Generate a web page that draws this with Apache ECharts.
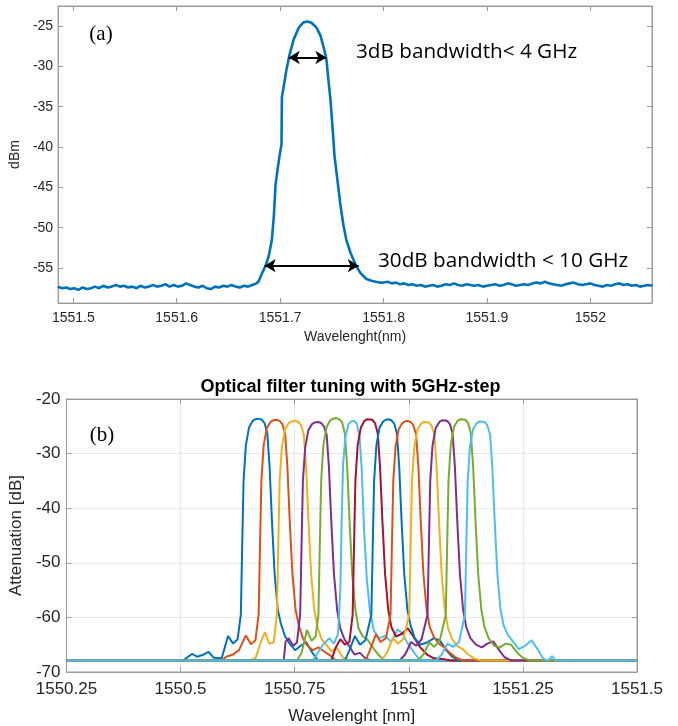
<!DOCTYPE html>
<html><head><meta charset="utf-8">
<script src="https://cdn.jsdelivr.net/npm/echarts@6/dist/echarts.min.js"></script>
<style>html,body{margin:0;padding:0;background:#fff}#c{width:678px;height:726px}</style>
</head><body><div id="c"></div>
<script>
// ---------- (a) single filter spectrum ----------
const spectrumBaseLeft = [
[1551.485,-57.3],[1551.489,-57.5],[1551.493,-57.4],[1551.497,-57.6],[1551.501,-57.5],[1551.505,-57.7],[1551.509,-57.4],
[1551.513,-57.6],[1551.517,-57.5],[1551.521,-57.3],[1551.525,-57.5],[1551.529,-57.2],[1551.533,-57.4],[1551.537,-57.3],
[1551.541,-57.1],[1551.545,-57.3],[1551.549,-57.2],[1551.553,-57.4],[1551.557,-57.3],[1551.561,-57.5],[1551.565,-57.2],
[1551.569,-57.4],[1551.573,-57.3],[1551.577,-57.1],[1551.581,-57.3],[1551.585,-57.2],[1551.589,-57.0],[1551.593,-57.3],
[1551.597,-57.1],[1551.601,-57.3],[1551.605,-57.2],[1551.609,-56.9],[1551.613,-57.1],[1551.617,-57.3],[1551.621,-57.4],
[1551.625,-57.2],[1551.629,-57.5],[1551.633,-57.6],[1551.637,-57.3],[1551.641,-57.4],[1551.645,-57.2],[1551.649,-57.3],
[1551.653,-57.1],[1551.657,-57.3],[1551.661,-57.4],[1551.665,-57.2],[1551.669,-57.3],[1551.673,-57.1],[1551.677,-56.9]
];
const spectrumPeak = [
[1551.679,-56.7],[1551.683,-55.5],[1551.686,-54.7],[1551.689,-53.5],[1551.692,-51.5],[1551.694,-48.4],[1551.6955,-44.7],
[1551.6975,-42.8],[1551.6995,-41.0],[1551.7013,-39.7],[1551.7017,-33.8],[1551.7032,-32.7],[1551.706,-30.5],[1551.709,-28.6],
[1551.713,-26.7],[1551.718,-25.2],[1551.7225,-24.55],[1551.7264,-24.45],[1551.7303,-24.6],[1551.7351,-25.2],[1551.739,-26.2],
[1551.7428,-28.0],[1551.7448,-29.2],[1551.7467,-31.7],[1551.7487,-34.2],[1551.7505,-37.3],[1551.7525,-41.0],[1551.7554,-44.1],
[1551.7583,-47.2],[1551.7612,-49.7],[1551.764,-51.5],[1551.768,-53.1],[1551.773,-54.6],[1551.7775,-55.6],[1551.7834,-56.35],
[1551.789,-56.6],[1551.796,-56.8]
];
const spectrumBaseRight = [
[1551.800,-56.8],[1551.804,-56.7],[1551.808,-56.9],[1551.812,-56.8],[1551.816,-57.0],[1551.820,-56.9],[1551.824,-57.1],
[1551.828,-57.0],[1551.832,-57.2],[1551.836,-57.1],[1551.840,-57.3],[1551.844,-57.2],[1551.848,-57.1],[1551.852,-57.3],
[1551.856,-57.2],[1551.860,-57.0],[1551.864,-57.1],[1551.868,-56.9],[1551.872,-57.1],[1551.876,-57.2],[1551.880,-57.0],
[1551.884,-57.1],[1551.888,-57.2],[1551.892,-57.1],[1551.896,-57.3],[1551.900,-57.2],[1551.904,-57.1],[1551.908,-57.0],
[1551.912,-57.2],[1551.916,-57.1],[1551.920,-56.9],[1551.924,-57.0],[1551.928,-57.2],[1551.932,-57.1],[1551.936,-57.0],
[1551.940,-57.1],[1551.944,-56.9],[1551.948,-56.8],[1551.952,-56.9],[1551.956,-56.7],[1551.960,-56.9],[1551.964,-57.0],
[1551.968,-57.1],[1551.972,-57.2],[1551.976,-57.0],[1551.980,-56.9],[1551.984,-56.8],[1551.988,-57.0],[1551.992,-57.1],
[1551.996,-57.0],[1552.000,-56.9],[1552.004,-57.1],[1552.008,-57.2],[1552.012,-57.3],[1552.016,-57.1],[1552.020,-57.2],
[1552.024,-57.0],[1552.028,-56.9],[1552.032,-57.1],[1552.036,-57.0],[1552.040,-57.2],[1552.044,-57.1],[1552.048,-57.3],
[1552.052,-57.2],[1552.056,-57.1],[1552.060,-57.2]
];
const bw3dB = [[1551.7083,-28.9],[1551.7447,-28.9]];
const bw30dB = [[1551.685,-54.7],[1551.776,-54.7]];
const topXTicks = [1551.5,1551.6,1551.7,1551.8,1551.9,1552];
const topYTicks = [-55,-50,-45,-40,-35,-30,-25];
const topXRange = [1551.4853,1552.0596];
const topYRange = [-59.33,-22.52];

// ---------- (b) tuning sweep, 13 filter positions ----------
const s1 = [[1550.25,-67.9],[1550.505,-67.9],[1550.515,-67.3],[1550.525,-66.7],[1550.536,-67.2],[1550.548,-66.9],[1550.561,-66.3],[1550.573,-67.4],[1550.590,-67.5],[1550.604,-63.4],[1550.615,-64.8],[1550.625,-64.0],[1550.632,-59.5],[1550.635,-47],[1550.638,-35],[1550.643,-28.5],[1550.650,-25.2],[1550.658,-24.0],[1550.664,-23.7],[1550.671,-23.6],[1550.678,-23.8],[1550.684,-24.4],[1550.690,-26.3],[1550.695,-32.4],[1550.700,-42],[1550.706,-52],[1550.713,-58.6],[1550.720,-61.2],[1550.729,-63.5],[1550.739,-64.8],[1550.751,-66],[1550.763,-65.2],[1550.775,-64.5],[1550.789,-66.5],[1550.801,-67.9],[1551.5,-67.9]];
const s2 = [[1550.25,-67.9],[1550.590,-67.9],[1550.600,-67.2],[1550.615,-66.8],[1550.628,-66.0],[1550.643,-63.3],[1550.654,-64.9],[1550.664,-64.2],[1550.671,-59.5],[1550.674,-47],[1550.677,-35],[1550.682,-28.5],[1550.689,-25.3],[1550.697,-24.2],[1550.703,-23.9],[1550.710,-23.8],[1550.717,-24.0],[1550.723,-24.6],[1550.729,-26.3],[1550.734,-32.4],[1550.739,-42],[1550.745,-52],[1550.752,-58.6],[1550.759,-61.5],[1550.768,-63.8],[1550.778,-65.2],[1550.790,-66],[1550.802,-65.5],[1550.814,-66.2],[1550.828,-67.0],[1550.840,-67.9],[1551.5,-67.9]];
const s3 = [[1550.25,-67.9],[1550.650,-67.9],[1550.664,-67.5],[1550.676,-64.5],[1550.685,-62.7],[1550.694,-64.8],[1550.704,-64.6],[1550.711,-59.5],[1550.714,-47],[1550.717,-35],[1550.722,-28.7],[1550.729,-25.5],[1550.737,-24.4],[1550.744,-24.1],[1550.751,-24.0],[1550.758,-24.2],[1550.764,-24.8],[1550.770,-26.5],[1550.775,-32.4],[1550.780,-42],[1550.786,-52],[1550.793,-58.6],[1550.800,-61.8],[1550.809,-64.0],[1550.819,-65.0],[1550.831,-66.2],[1550.843,-65.6],[1550.855,-67.3],[1550.870,-67.9],[1551.5,-67.9]];
const s4 = [[1550.25,-67.9],[1550.726,-67.9],[1550.730,-64.5],[1550.737,-63.8],[1550.747,-65.2],[1550.755,-64.6],[1550.762,-59.5],[1550.765,-47],[1550.768,-35],[1550.773,-28.9],[1550.780,-25.7],[1550.788,-24.6],[1550.794,-24.3],[1550.801,-24.2],[1550.808,-24.4],[1550.814,-25.0],[1550.820,-26.5],[1550.825,-32.4],[1550.830,-42],[1550.836,-52],[1550.843,-58.6],[1550.850,-62.0],[1550.859,-64.0],[1550.869,-65.2],[1550.881,-66.8],[1550.893,-66.5],[1550.905,-67.5],[1550.918,-67.9],[1551.5,-67.9]];
const s5 = [[1550.25,-67.9],[1550.755,-67.9],[1550.765,-66.5],[1550.777,-62.3],[1550.787,-64.3],[1550.796,-63.5],[1550.802,-59.5],[1550.805,-47],[1550.808,-35],[1550.813,-28.4],[1550.820,-25.1],[1550.828,-23.9],[1550.834,-23.6],[1550.841,-23.5],[1550.848,-23.7],[1550.854,-24.3],[1550.860,-26.3],[1550.865,-32.4],[1550.870,-42],[1550.876,-52],[1550.883,-58.6],[1550.890,-62.0],[1550.899,-63.5],[1550.909,-64.0],[1550.921,-65.5],[1550.933,-66.8],[1550.946,-67.9],[1551.5,-67.9]];
const s6 = [[1550.25,-67.9],[1550.790,-67.9],[1550.800,-66.5],[1550.812,-65.0],[1550.826,-63.8],[1550.836,-64.8],[1550.845,-63.0],[1550.850,-55],[1550.853,-42],[1550.856,-32],[1550.861,-27],[1550.868,-24.6],[1550.874,-24.1],[1550.880,-24.0],[1550.886,-24.5],[1550.892,-26.8],[1550.897,-33],[1550.902,-44],[1550.908,-53],[1550.915,-59],[1550.924,-62.5],[1550.935,-63.8],[1550.948,-63.4],[1550.962,-64.5],[1550.975,-62.2],[1550.985,-62.8],[1550.998,-64.8],[1551.012,-66.5],[1551.025,-67.9],[1551.5,-67.9]];
const s7 = [[1550.25,-67.9],[1550.830,-67.9],[1550.840,-65.5],[1550.850,-64.0],[1550.860,-65.0],[1550.870,-64.5],[1550.877,-59.5],[1550.880,-47],[1550.883,-35],[1550.888,-28.4],[1550.895,-25.2],[1550.903,-24.0],[1550.909,-23.7],[1550.913,-23.6],[1550.920,-23.8],[1550.926,-24.4],[1550.932,-26.3],[1550.937,-32.4],[1550.942,-42],[1550.948,-52],[1550.955,-58.6],[1550.962,-61.8],[1550.972,-63.5],[1550.985,-63.0],[1550.998,-62.0],[1551.010,-63.5],[1551.025,-65.5],[1551.040,-66.8],[1551.055,-67.5],[1551.075,-67.6],[1551.090,-67.9],[1551.5,-67.9]];
const s8 = [[1550.25,-67.9],[1550.860,-67.9],[1550.870,-66.0],[1550.882,-63.4],[1550.893,-65.0],[1550.905,-64.2],[1550.918,-59.5],[1550.921,-47],[1550.924,-35],[1550.929,-28.5],[1550.936,-25.2],[1550.944,-24.1],[1550.950,-23.8],[1550.955,-23.7],[1550.962,-23.9],[1550.968,-24.5],[1550.974,-26.3],[1550.979,-32.4],[1550.984,-42],[1550.990,-52],[1550.997,-58.6],[1551.004,-61.5],[1551.013,-63.8],[1551.025,-65.0],[1551.040,-64.6],[1551.055,-63.8],[1551.068,-64.2],[1551.082,-66.0],[1551.095,-67.2],[1551.110,-67.9],[1551.5,-67.9]];
const s9 = [[1550.25,-67.9],[1550.905,-67.9],[1550.915,-66.0],[1550.928,-63.1],[1550.938,-64.5],[1550.950,-63.8],[1550.960,-59.5],[1550.963,-47],[1550.966,-35],[1550.971,-28.7],[1550.978,-25.5],[1550.986,-24.4],[1550.992,-24.1],[1550.997,-24.0],[1551.004,-24.2],[1551.010,-24.8],[1551.016,-26.5],[1551.021,-32.4],[1551.026,-42],[1551.032,-52],[1551.039,-58.6],[1551.046,-61.8],[1551.055,-63.6],[1551.066,-64.8],[1551.078,-65.5],[1551.090,-66.5],[1551.102,-67.3],[1551.118,-67.9],[1551.5,-67.9]];
const s10 = [[1550.25,-67.9],[1550.940,-67.9],[1550.952,-66.5],[1550.965,-63.8],[1550.976,-64.8],[1550.988,-64.0],[1551.001,-59.5],[1551.004,-47],[1551.007,-35],[1551.012,-28.8],[1551.019,-25.6],[1551.027,-24.5],[1551.033,-24.2],[1551.037,-24.1],[1551.044,-24.3],[1551.050,-24.9],[1551.056,-26.5],[1551.061,-32.4],[1551.066,-42],[1551.072,-52],[1551.079,-58.6],[1551.086,-62.0],[1551.095,-64.0],[1551.106,-65.2],[1551.118,-65.8],[1551.130,-66.8],[1551.143,-67.5],[1551.158,-67.9],[1551.5,-67.9]];
const s11 = [[1550.25,-67.9],[1550.980,-67.9],[1550.992,-66.8],[1551.005,-64.5],[1551.016,-65.2],[1551.028,-64.0],[1551.041,-59.5],[1551.044,-47],[1551.047,-35],[1551.052,-28.5],[1551.059,-25.3],[1551.067,-24.2],[1551.073,-23.9],[1551.077,-23.8],[1551.084,-24.0],[1551.090,-24.6],[1551.096,-26.3],[1551.101,-32.4],[1551.106,-42],[1551.112,-52],[1551.119,-58.6],[1551.126,-61.8],[1551.135,-63.8],[1551.147,-65.0],[1551.160,-65.5],[1551.172,-64.8],[1551.185,-64.4],[1551.198,-66.0],[1551.210,-67.3],[1551.225,-67.9],[1551.5,-67.9]];
const s12 = [[1550.25,-67.9],[1551.020,-67.9],[1551.032,-66.8],[1551.045,-64.6],[1551.056,-65.4],[1551.068,-64.2],[1551.081,-59.5],[1551.084,-47],[1551.087,-35],[1551.092,-28.4],[1551.099,-25.1],[1551.107,-24.0],[1551.113,-23.7],[1551.117,-23.6],[1551.124,-23.8],[1551.130,-24.4],[1551.136,-26.3],[1551.141,-32.4],[1551.146,-42],[1551.152,-52],[1551.159,-58.6],[1551.166,-61.8],[1551.175,-63.8],[1551.187,-65.2],[1551.200,-65.5],[1551.212,-64.8],[1551.224,-65.0],[1551.238,-66.5],[1551.250,-67.4],[1551.265,-67.9],[1551.5,-67.9]];
const s13 = [[1550.25,-67.9],[1551.060,-67.9],[1551.072,-66.8],[1551.085,-64.8],[1551.097,-65.4],[1551.110,-64.5],[1551.123,-59.5],[1551.126,-47],[1551.129,-35],[1551.134,-28.7],[1551.141,-25.5],[1551.149,-24.4],[1551.155,-24.1],[1551.159,-24.0],[1551.166,-24.2],[1551.172,-24.8],[1551.178,-26.5],[1551.183,-32.4],[1551.188,-42],[1551.194,-52],[1551.201,-58.6],[1551.208,-61.5],[1551.217,-63.2],[1551.229,-64.5],[1551.241,-65.8],[1551.255,-65.2],[1551.269,-64.2],[1551.282,-65.8],[1551.295,-67.6],[1551.305,-67.9],[1551.314,-67.1],[1551.322,-67.9],[1551.5,-67.9]];
const sweepSeries = [s1,s2,s3,s4,s5,s6,s7,s8,s9,s10,s11,s12,s13];
const botXRange = [1550.25,1551.5];
const botYRange = [-70,-20];

// ---------- styling ----------
const matlab = ['#0072BD','#D95319','#EDB120','#7E2F8E','#77AC30','#4DBEEE','#A2142F'];
const axisGrey = '#9a9a9a';
const txt = '#262626';
const sans = '"Liberation Sans", Arial, sans-serif';
const numFmt = v => String(+(+v).toFixed(4));

const chart = echarts.init(document.getElementById('c'), null, {renderer:'canvas'});

function mirror(grid, pos, range, extra){
  return Object.assign({type:'value', gridIndex:grid, position:pos, min:range[0], max:range[1],
    axisLine:{show:true, lineStyle:{color:axisGrey}}, axisLabel:{show:false},
    axisTick:{show:true, inside:true, length:5, lineStyle:{color:axisGrey}}, splitLine:{show:false}}, extra||{});
}

const option = {
  animation:false,
  backgroundColor:'#fff',
  grid:[
    {left:57.5, top:6, width:594.5, height:297, show:true, borderColor:axisGrey, borderWidth:1},
    {left:64.3, top:399, width:572.7, height:273.3, show:true, borderColor:axisGrey, borderWidth:1}
  ],
  xAxis:[
    {type:'value', gridIndex:0, position:'bottom', min:topXRange[0], max:topXRange[1],
     axisLine:{show:true, lineStyle:{color:axisGrey}},
     axisTick:{show:true, inside:true, length:5, lineStyle:{color:axisGrey}, customValues:topXTicks},
     axisLabel:{color:txt, fontSize:14, fontFamily:sans, margin:8, customValues:topXTicks, formatter:numFmt},
     splitLine:{show:false},
     name:'Wavelenght(nm)', nameLocation:'middle', nameGap:27,
     nameTextStyle:{color:txt, fontSize:14, fontFamily:sans}},
    mirror(0,'top',topXRange,{axisTick:{show:true, inside:true, length:5, lineStyle:{color:axisGrey}, customValues:topXTicks}}),
    {type:'value', gridIndex:1, position:'bottom', min:botXRange[0], max:botXRange[1], interval:0.25,
     axisLine:{show:true, lineStyle:{color:axisGrey}},
     axisTick:{show:true, inside:true, length:5, lineStyle:{color:axisGrey}},
     axisLabel:{color:txt, fontSize:17, fontFamily:sans, margin:9, showMinLabel:true, showMaxLabel:true, hideOverlap:false, formatter:numFmt},
     splitLine:{show:true, lineStyle:{color:'#e6e6e6', width:1}},
     name:'Wavelenght [nm]', nameLocation:'middle', nameGap:36,
     nameTextStyle:{color:txt, fontSize:17, fontFamily:sans}},
    mirror(1,'top',botXRange,{interval:0.25})
  ],
  yAxis:[
    {type:'value', gridIndex:0, position:'left', min:topYRange[0], max:topYRange[1],
     axisLine:{show:true, lineStyle:{color:axisGrey}},
     axisTick:{show:true, inside:true, length:5, lineStyle:{color:axisGrey}, customValues:topYTicks},
     axisLabel:{color:txt, fontSize:14, fontFamily:sans, margin:5, customValues:topYTicks, formatter:numFmt},
     splitLine:{show:false},
     name:'dBm', nameLocation:'middle', nameGap:23, nameRotate:90,
     nameTextStyle:{color:txt, fontSize:14, fontFamily:sans}},
    mirror(0,'right',topYRange,{axisTick:{show:true, inside:true, length:5, lineStyle:{color:axisGrey}, customValues:topYTicks}}),
    {type:'value', gridIndex:1, position:'left', min:botYRange[0], max:botYRange[1], interval:10,
     axisLine:{show:true, lineStyle:{color:axisGrey}},
     axisTick:{show:true, inside:true, length:5, lineStyle:{color:axisGrey}},
     axisLabel:{color:txt, fontSize:17, fontFamily:sans, margin:6, showMinLabel:true, showMaxLabel:true, formatter:numFmt},
     splitLine:{show:true, lineStyle:{color:'#e6e6e6', width:1}},
     name:'Attenuation [dB]', nameLocation:'middle', nameGap:34, nameRotate:90,
     nameTextStyle:{color:txt, fontSize:17, fontFamily:sans}},
    mirror(1,'right',botYRange,{interval:10})
  ],
  series:[
    {type:'line', xAxisIndex:0, yAxisIndex:0, showSymbol:false, symbol:'none',
     data: spectrumBaseLeft.concat(spectrumPeak, spectrumBaseRight),
     lineStyle:{color:'#0072BD', width:2.6}, z:3,
     markLine:{silent:true, symbol:['arrow','arrow'], symbolSize:[10,11], label:{show:false},
       lineStyle:{color:'#000', width:2, type:'solid'},
       data:[[{coord:bw3dB[0]},{coord:bw3dB[1]}],[{coord:bw30dB[0]},{coord:bw30dB[1]}]]}}
  ].concat(sweepSeries.map((d,i)=>({
     type:'line', xAxisIndex:2, yAxisIndex:2, showSymbol:false, symbol:'none', data:d,
     lineStyle:{color:matlab[i%7], width:2}, z:3+i
  }))),
  graphic:[
    {type:'text', x:101, y:34, style:{text:'(a)', fontSize:21, fontFamily:'"Liberation Serif","Times New Roman",serif', fill:'#000', align:'center', verticalAlign:'middle'}},
    {type:'text', x:356, y:52, style:{text:'3dB bandwidth< 4 GHz', fontSize:20.7, fontFamily:'"Open Sans", sans-serif', fill:'#000', align:'left', verticalAlign:'middle'}},
    {type:'text', x:378, y:261, style:{text:'30dB bandwidth < 10 GHz', fontSize:20.7, fontFamily:'"Open Sans", sans-serif', fill:'#000', align:'left', verticalAlign:'middle'}},
    {type:'text', x:350.6, y:387, style:{text:'Optical filter tuning with 5GHz-step', fontSize:18, fontWeight:'bold', fontFamily:sans, fill:'#000', align:'center', verticalAlign:'middle'}},
    {type:'text', x:102, y:435, style:{text:'(b)', fontSize:21, fontFamily:'"Liberation Serif","Times New Roman",serif', fill:'#000', align:'center', verticalAlign:'middle'}}
  ]
};
chart.setOption(option);
</script>
</body></html>
